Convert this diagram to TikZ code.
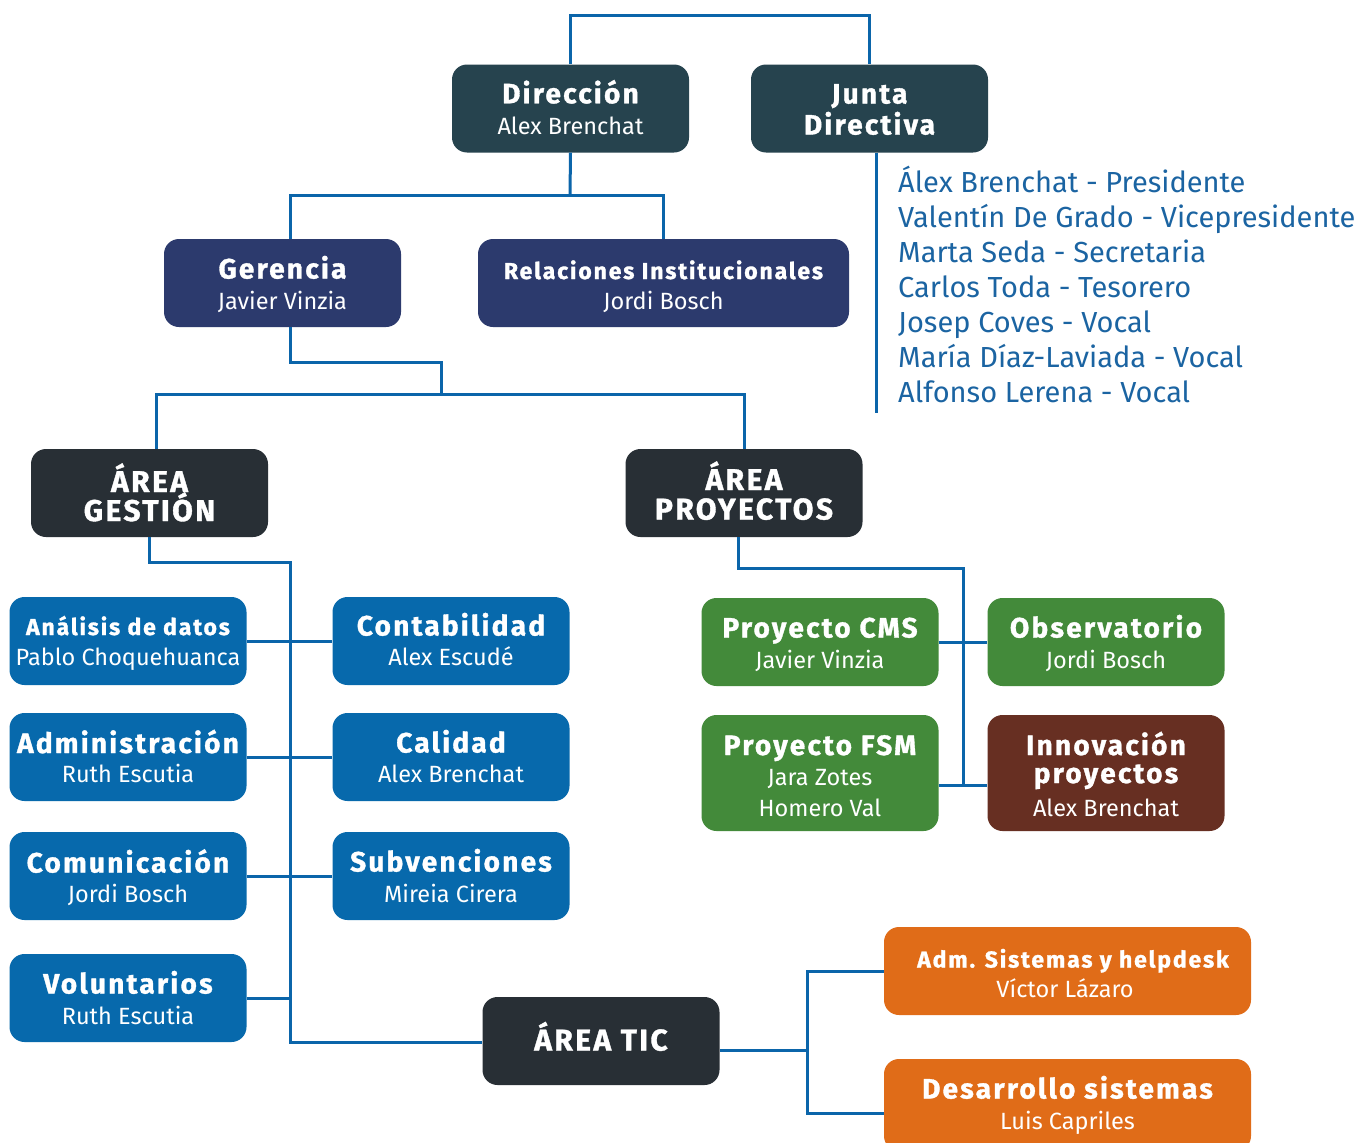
\documentclass[tikz,border=0pt]{standalone}
\usepackage{fontspec}
\setmainfont{Fira Sans}
\newfontfamily\ttlfont{Fira Sans}[BoldFeatures={LetterSpace=8, FakeBold=1.2}]
\newfontfamily\nmfont{Fira Sans}
\definecolor{dirc}{HTML}{26434E}
\definecolor{navc}{HTML}{2C3A6D}
\definecolor{darkc}{HTML}{282F35}
\definecolor{bluec}{HTML}{0769AC}
\definecolor{greenc}{HTML}{438A3A}
\definecolor{brownc}{HTML}{672F22}
\definecolor{orangec}{HTML}{E06C18}
\definecolor{linec}{HTML}{0B65AA}
\definecolor{listc}{HTML}{1B64A2}
\tikzset{
  conn/.style={draw=linec, line width=3pt},
  obox/.style={rounded corners=15pt, inner sep=0pt, minimum width=237pt, minimum height=88pt},
  ttl/.style={text=white, anchor=base, inner sep=0pt, font=\ttlfont\bfseries\fontsize{28}{28}\selectfont},
  ttla/.style={text=white, anchor=base, inner sep=0pt, font=\ttlfont\bfseries\fontsize{30}{30}\selectfont},
  ttls/.style={text=white, anchor=base, inner sep=0pt, font=\ttlfont\bfseries\fontsize{23}{23}\selectfont},
  nm/.style={text=white, anchor=base, inner sep=0pt, font=\nmfont\fontsize{23.5}{23.5}\selectfont},
  lst/.style={text=listc, anchor=base west, inner sep=0pt, font=\nmfont\fontsize{29}{29}\selectfont}
}
\begin{document}
\begin{tikzpicture}[x=1pt,y=-1pt]
\fill[white] (0,0) rectangle (1363,1143);
\useasboundingbox (0,0) rectangle (1363,1143);
% boxes
\node[obox, fill=dirc] (dir) at (570.5,108.5) {};
\node[obox, fill=dirc] (jun) at (869.5,108.5) {};
\node[obox, fill=navc] (ger) at (282.5,283) {};
\node[obox, fill=navc, minimum width=371pt] (rel) at (663.5,283) {};
\node[obox, fill=darkc] (ag) at (149.5,493) {};
\node[obox, fill=darkc] (ap) at (744,493) {};
\node[obox, fill=bluec] (ana) at (128,641) {};
\node[obox, fill=bluec] (con) at (451,641) {};
\node[obox, fill=bluec] (adm) at (128,757) {};
\node[obox, fill=bluec] (cal) at (451,757) {};
\node[obox, fill=bluec] (com) at (128,876) {};
\node[obox, fill=bluec] (sub) at (451,876) {};
\node[obox, fill=bluec] (vol) at (128,998) {};
\node[obox, fill=darkc] (tic) at (601,1041) {};
\node[obox, fill=greenc] (cms) at (820,642) {};
\node[obox, fill=greenc] (obs) at (1106,642) {};
\node[obox, fill=greenc, minimum height=116pt] (fsm) at (820,773) {};
\node[obox, fill=brownc, minimum height=116pt] (inn) at (1106,773) {};
\node[obox, fill=orangec, minimum width=367pt] (ads) at (1067.5,971) {};
\node[obox, fill=orangec, minimum width=367pt, minimum height=92pt] (des) at (1067.5,1105) {};
% texts
\node[ttl] (dir-t) at (570.5,103.3) {Dirección};
\node[nm] (dir-n) at (570.5,134.5) {Alex Brenchat};
\node[ttl] (jun-t) at (869.5,103.5) {Junta};
\node[ttl] (jun-u) at (869.5,134.5) {Directiva};
\node[ttl] (ger-t) at (282.5,278.5) {Gerencia};
\node[nm] (ger-n) at (282.5,309) {Javier Vinzia};
\node[ttls] (rel-t) at (663.5,279) {Relaciones Institucionales};
\node[nm] (rel-n) at (663.5,309) {Jordi Bosch};
\node[ttla] (ag-t) at (149.5,492) {ÁREA};
\node[ttla] (ag-u) at (149.5,521) {GESTIÓN};
\node[ttla] (ap-t) at (744,490) {ÁREA};
\node[ttla] (ap-u) at (744,519.5) {PROYECTOS};
\node[ttls] (ana-t) at (128,635) {Análisis de datos};
\node[nm] (ana-n) at (128,665.5) {Pablo Choquehuanca};
\node[ttl] (con-t) at (451,635.5) {Contabilidad};
\node[nm] (con-n) at (451,665.5) {Alex Escudé};
\node[ttl] (adm-t) at (128,753) {Administración};
\node[nm] (adm-n) at (128,782.5) {Ruth Escutia};
\node[ttl] (cal-t) at (451,752.5) {Calidad};
\node[nm] (cal-n) at (451,782.5) {Alex Brenchat};
\node[ttl] (com-t) at (128,872.5) {Comunicación};
\node[nm] (com-n) at (128,902) {Jordi Bosch};
\node[ttl] (sub-t) at (451,871.5) {Subvenciones};
\node[nm] (sub-n) at (451,902) {Mireia Cirera};
\node[ttl] (vol-t) at (128,993.5) {Voluntarios};
\node[nm] (vol-n) at (128,1024) {Ruth Escutia};
\node[ttla] (tic-t) at (601,1050.5) {ÁREA TIC};
\node[ttl] (cms-t) at (820,637.5) {Proyecto CMS};
\node[nm] (cms-n) at (820,668) {Javier Vinzia};
\node[ttl] (obs-t) at (1106,637.5) {Observatorio};
\node[nm] (obs-n) at (1106,668) {Jordi Bosch};
\node[ttl] (fsm-t) at (820,755) {Proyecto FSM};
\node[nm] (fsm-n) at (820,785) {Jara Zotes};
\node[nm] (fsm-m) at (820,816) {Homero Val};
\node[ttl] (inn-t) at (1106,755) {Innovación};
\node[ttl] (inn-u) at (1106,783) {proyectos};
\node[nm] (inn-n) at (1106,816) {Alex Brenchat};
\node[ttls] (ads-t) at (1073,967.5) {Adm. Sistemas y helpdesk};
\node[nm] (ads-n) at (1065,997) {Víctor Lázaro};
\node[ttl] (des-t) at (1067.5,1098.5) {Desarrollo sistemas};
\node[nm] (des-n) at (1067.5,1129) {Luis Capriles};
% junta list
\foreach \t [count=\i] in {Álex Brenchat - Presidente,Valentín De Grado - Vicepresidente,Marta Seda - Secretaria,Carlos Toda - Tesorero,Josep Coves - Vocal,María Díaz-Laviada - Vocal,Alfonso Lerena - Vocal}
  \node[lst] (jd\i) at (898,157.7+35*\i) {\t};
% coordinates
\coordinate (jl) at (876,413);
\coordinate (dj) at (570,195);
\coordinate (gx) at (290,195);
\coordinate (gb) at (290,362);
\coordinate (gm) at (441,394);
\coordinate (ag1) at (156,394);
\coordinate (agb) at (149,562);
\coordinate (vx) at (290,1042);
\coordinate (apb) at (738,568);
\coordinate (pj) at (963,785);
\coordinate (tj) at (807,1050);
\coordinate (dsj) at (807,1113);
% connectors
\draw[conn] (dir.north) -- ++(0,-49) -| (jun.north);
\draw[conn] (jl |- jun.south) -- (jl);
\draw[conn] (dir.south) -- (dj);
\draw[conn] (gx |- ger.north) -- (gx) -| (rel.north);
\draw[conn] (gb |- ger.south) -- (gb) -| (gm);
\draw[conn] (ag1 |- ag.north) -- (ag1) -| (ap.north);
\draw[conn] (agb |- ag.south) -- (agb) -| (vx) -- (vx -| tic.west);
\draw[conn] (ana.east) -- (con.west);
\draw[conn] (adm.east) -- (cal.west);
\draw[conn] (com.east) -- (sub.west);
\draw[conn] (vol.east) -- (vol.east -| vx);
\draw[conn] (apb |- ap.south) -- (apb) -| (pj);
\draw[conn] (cms.east) -- (obs.west);
\draw[conn] (pj -| fsm.east) -- (pj -| inn.west);
\draw[conn] (tj -| tic.east) -- (tj);
\draw[conn] (ads.west) -| (dsj) -- (dsj -| des.west);
\end{tikzpicture}
\end{document}
